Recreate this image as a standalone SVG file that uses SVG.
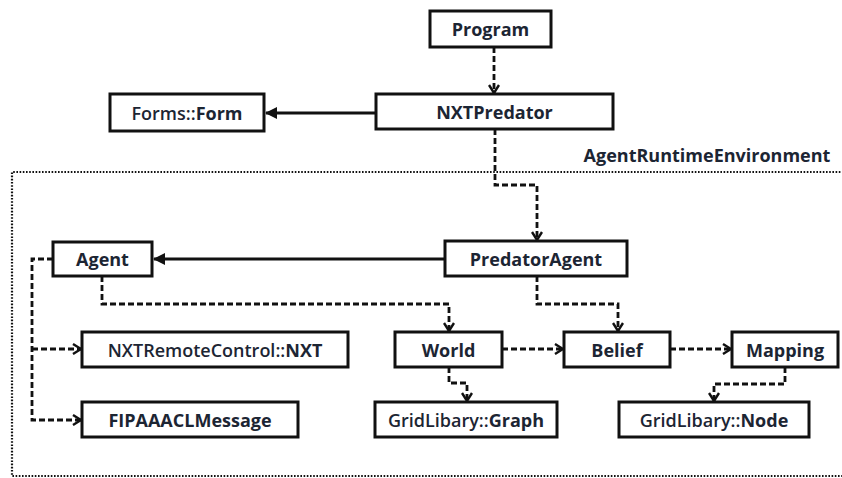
<svg xmlns="http://www.w3.org/2000/svg" width="842" height="478" viewBox="0 0 842 478">
<defs>
<style>
.box{fill:#fff;stroke:#111;stroke-width:3}
.t{font-family:"Open Sans","Liberation Sans",sans-serif;font-size:18px;font-weight:600;fill:#1c2533;text-anchor:middle;dominant-baseline:central}
.b{font-weight:bold}
.dash{fill:none;stroke:#111;stroke-width:2.8;stroke-dasharray:6 3}
.solid{fill:none;stroke:#111;stroke-width:2.8}
.frame{fill:none;stroke:#111;stroke-width:2.2;stroke-dasharray:1.6 1.6}
</style>
<marker id="open" viewBox="0 0 10 12" refX="9" refY="6" markerWidth="10" markerHeight="12" markerUnits="userSpaceOnUse" orient="auto">
<path d="M1,1 L9,6 L1,11" fill="none" stroke="#111" stroke-width="2.4"/>
</marker>
<marker id="fill" viewBox="0 0 12 12" refX="11" refY="6" markerWidth="12" markerHeight="12" markerUnits="userSpaceOnUse" orient="auto">
<path d="M0,0 L12,6 L0,12 Z" fill="#111"/>
</marker>
</defs>
<rect width="842" height="478" fill="#fff"/>
<g id="frame">
<path class="frame" d="M850,172 L12,172 L12,476 L850,476"/>
<text class="t b" x="707" y="155">AgentRuntimeEnvironment</text>
</g>
<g id="connectors">
<path class="dash" d="M494,47 V93" marker-end="url(#open)"/>
<path class="solid" d="M376,113 H266" marker-end="url(#fill)"/>
<path class="dash" d="M495,129 V185 H537 V240" marker-end="url(#open)"/>
<path class="solid" d="M445,259 H154" marker-end="url(#fill)"/>
<path class="dash" d="M102,276 V304 H449 V331" marker-end="url(#open)"/>
<path class="dash" d="M537,276 V304 H618 V331" marker-end="url(#open)"/>
<path class="dash" d="M502,349 H563" marker-end="url(#open)"/>
<path class="dash" d="M670,349 H731" marker-end="url(#open)"/>
<path class="dash" d="M449,367 V383 H467 V401" marker-end="url(#open)"/>
<path class="dash" d="M785,367 V384 H714 V401" marker-end="url(#open)"/>
<path class="dash" d="M53,259 H32 V420 H81" marker-end="url(#open)"/>
<path class="dash" d="M32,349 H81" marker-end="url(#open)"/>
</g>
<g id="Program"><rect class="box" x="430" y="11" width="121" height="36"/><text class="t b" x="490.5" y="29">Program</text></g>
<g id="NXTPredator"><rect class="box" x="376" y="94" width="237" height="35"/><text class="t b" x="494.5" y="111.5">NXTPredator</text></g>
<g id="FormsForm"><rect class="box" x="110" y="94" width="154" height="37"/><text class="t" x="187" y="112.5">Forms::<tspan class="b">Form</tspan></text></g>
<g id="PredatorAgent"><rect class="box" x="445" y="241" width="182" height="35"/><text class="t b" x="536" y="258.5">PredatorAgent</text></g>
<g id="Agent"><rect class="box" x="53" y="242" width="99" height="34"/><text class="t b" x="102.5" y="259">Agent</text></g>
<g id="NXT"><rect class="box" x="82" y="332" width="266" height="35"/><text class="t" x="215" y="349.5">NXTRemoteControl::<tspan class="b">NXT</tspan></text></g>
<g id="World"><rect class="box" x="395" y="332" width="107" height="35"/><text class="t b" x="448.5" y="349.5">World</text></g>
<g id="Belief"><rect class="box" x="564" y="332" width="106" height="35"/><text class="t b" x="617" y="349.5">Belief</text></g>
<g id="Mapping"><rect class="box" x="732" y="332" width="106" height="35"/><text class="t b" x="785" y="349.5">Mapping</text></g>
<g id="FIPA"><rect class="box" x="82" y="402" width="216" height="35"/><text class="t b" x="190" y="419.5">FIPAAACLMessage</text></g>
<g id="Graph"><rect class="box" x="375" y="402" width="182" height="35"/><text class="t" x="466" y="419.5">GridLibary::<tspan class="b">Graph</tspan></text></g>
<g id="Node"><rect class="box" x="619" y="402" width="190" height="35"/><text class="t" x="714" y="419.5">GridLibary::<tspan class="b">Node</tspan></text></g>
</svg>
